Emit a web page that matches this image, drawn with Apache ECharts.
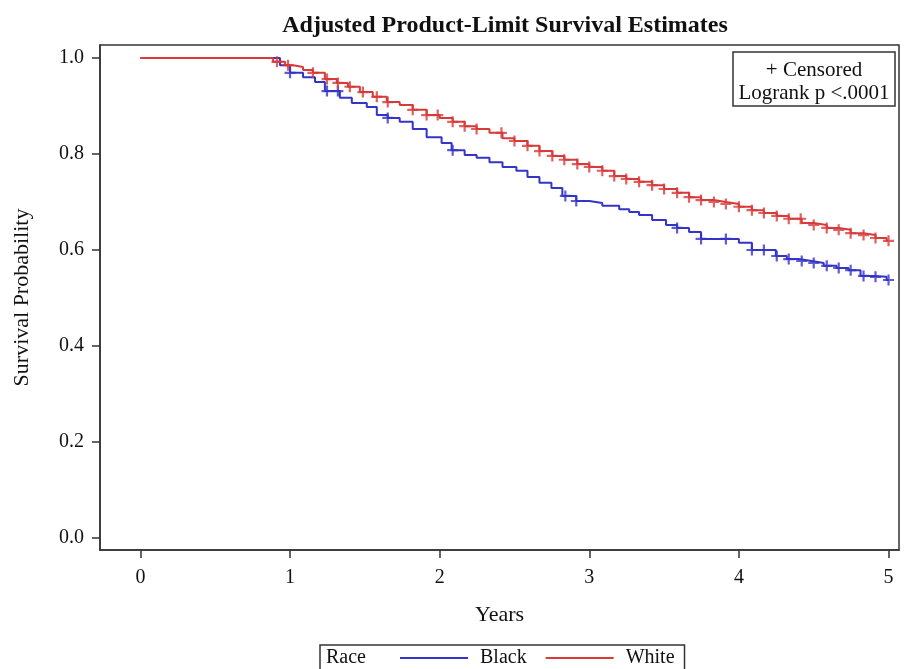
<!DOCTYPE html>
<html><head><meta charset="utf-8">
<script src="https://cdn.jsdelivr.net/npm/echarts@6/dist/echarts.min.js"></script>
<style>html,body{margin:0;padding:0;background:#fff}#c{width:904px;height:669px}</style>
</head><body><div id="c"></div>
<script>
const xTicks = [0, 1, 2, 3, 4, 5];
const yTicks = [0, 0.2, 0.4, 0.6, 0.8, 1.0];

const blackTimes = [0,0.933,1.0,1.087,1.167,1.233,1.333,1.413,1.513,1.58,1.653,1.733,1.82,1.913,2.013,2.08,2.167,2.247,2.333,2.42,2.513,2.587,2.667,2.747,2.82,2.913,3.0,3.087,3.2,3.267,3.333,3.42,3.513,3.587,3.667,3.747,4.0,4.087,4.247,4.32,4.4,4.487,4.567,4.653,4.733,4.813,4.9,4.987,5.0];
const blackSurv = [1.0,0.985,0.969,0.960,0.950,0.931,0.917,0.906,0.898,0.881,0.875,0.867,0.852,0.835,0.823,0.808,0.798,0.792,0.783,0.773,0.765,0.752,0.740,0.729,0.7125,0.702,0.698,0.692,0.685,0.679,0.673,0.6625,0.652,0.646,0.6375,0.623,0.615,0.600,0.5875,0.581,0.577,0.573,0.567,0.5625,0.558,0.546,0.544,0.5375,0.5375];

const whiteTimes = [0,0.887,0.967,1.02,1.087,1.153,1.233,1.313,1.387,1.467,1.553,1.647,1.733,1.82,1.913,2.0,2.087,2.167,2.247,2.333,2.42,2.5,2.587,2.667,2.753,2.833,2.92,3.0,3.087,3.167,3.247,3.333,3.42,3.5,3.587,3.667,3.747,3.833,3.913,4.0,4.087,4.167,4.253,4.333,4.42,4.5,4.587,4.667,4.747,4.833,4.913,4.987,5.0];
const whiteSurv = [1.0,0.992,0.985,0.981,0.975,0.969,0.956,0.948,0.940,0.929,0.919,0.908,0.902,0.892,0.881,0.875,0.867,0.858,0.852,0.844,0.833,0.827,0.817,0.806,0.796,0.788,0.779,0.773,0.765,0.754,0.748,0.742,0.735,0.727,0.719,0.710,0.704,0.700,0.696,0.690,0.683,0.677,0.671,0.665,0.656,0.652,0.646,0.642,0.635,0.631,0.625,0.619,0.619];

const blackCensor = [1.0,1.247,1.32,1.653,2.087,2.84,2.913,3.587,3.747,3.913,4.087,4.167,4.253,4.333,4.42,4.5,4.587,4.667,4.747,4.833,4.913,5.0];
const whiteCensor = [0.913,0.987,1.153,1.247,1.32,1.40,1.487,1.58,1.653,1.82,1.913,1.987,2.087,2.167,2.247,2.413,2.5,2.587,2.667,2.753,2.833,2.92,3.0,3.087,3.167,3.247,3.333,3.42,3.5,3.587,3.667,3.747,3.833,3.913,4.0,4.087,4.167,4.253,4.333,4.413,4.5,4.587,4.667,4.747,4.833,4.913,5.0];

const BLUE = '#3434c6', RED = '#d83a3a';
const FONT = '"Liberation Serif", "Times New Roman", serif';

function pairs(t, s) { return t.map((v, i) => [v, s[i]]); }
function survAt(times, surv, t) {
  let k = 0;
  for (let i = 0; i < times.length; i++) if (times[i] <= t) k = i;
  return surv[k];
}
function censorPts(ct, times, surv) { return ct.map(t => [t, survAt(times, surv, t)]); }

const plus = 'path://M4,0H6V4H10V6H6V10H4V6H0V4H4Z';

const chart = echarts.init(document.getElementById('c'), null, {renderer: 'canvas'});
chart.setOption({
  animation: false,
  backgroundColor: '#fff',
  textStyle: {fontFamily: FONT},
  title: {
    text: 'Adjusted Product-Limit Survival Estimates',
    left: 500, top: 9, textAlign: 'center',
    textStyle: {fontFamily: FONT, fontWeight: 'bold', fontSize: 24, color: '#111'}
  },
  grid: {left: 100, right: 5, top: 45, bottom: 119, show: true, borderColor: '#333', borderWidth: 1.5, containLabel: false},
  xAxis: {
    type: 'value', min: -0.27, max: 5.07,
    name: 'Years', nameLocation: 'middle', nameGap: 54,
    nameTextStyle: {fontFamily: FONT, fontSize: 22, color: '#111'},
    axisLine: {show: true, onZero: false, lineStyle: {color: '#333', width: 1.5}},
    axisTick: {show: true, customValues: xTicks, length: 8, lineStyle: {color: '#333', width: 1.5}},
    axisLabel: {customValues: xTicks, margin: 18, fontFamily: FONT, fontSize: 20, color: '#111'},
    splitLine: {show: false}
  },
  yAxis: {
    type: 'value', min: -0.025, max: 1.027,
    name: 'Survival Probability', nameLocation: 'middle', nameGap: 67,
    nameTextStyle: {fontFamily: FONT, fontSize: 22, color: '#111'},
    axisLine: {show: true, onZero: false, lineStyle: {color: '#333', width: 1.5}},
    axisTick: {show: true, customValues: yTicks, length: 8, lineStyle: {color: '#333', width: 1.5}},
    axisLabel: {customValues: yTicks, margin: 16, fontFamily: FONT, fontSize: 20, color: '#111', formatter: v => v.toFixed(1)},
    splitLine: {show: false}
  },
  legend: {
    data: ['Black', 'White'],
    icon: 'rect',
    left: 320, top: 645,
    padding: [3, 10, 8, 80],
    itemWidth: 68, itemHeight: 2, itemGap: 19,
    borderColor: '#333', borderWidth: 1.5,
    textStyle: {fontFamily: FONT, fontSize: 20, color: '#111', padding: [0, 0, 0, 7]}
  },
  graphic: [
    {type: 'text', left: 326, top: 648, style: {text: 'Race', font: '20px ' + FONT, fill: '#111'}},
    {type: 'rect', shape: {x: 733, y: 52, width: 162, height: 54}, style: {fill: '#fff', stroke: '#333', lineWidth: 1.5}},
    {type: 'text', x: 814, y: 60, style: {text: '+ Censored', font: '21px ' + FONT, fill: '#111', textAlign: 'center'}},
    {type: 'text', x: 814, y: 83, style: {text: 'Logrank p <.0001', font: '21px ' + FONT, fill: '#111', textAlign: 'center'}}
  ],
  series: [
    {name: 'Black', type: 'line', step: 'end', symbol: 'none', data: pairs(blackTimes, blackSurv),
     lineStyle: {color: BLUE, width: 2}, itemStyle: {color: BLUE}, z: 2},
    {name: 'White', type: 'line', step: 'end', symbol: 'none', data: pairs(whiteTimes, whiteSurv),
     lineStyle: {color: RED, width: 2}, itemStyle: {color: RED}, z: 3},
    {name: 'Black censored', type: 'scatter', symbol: plus, symbolSize: 11,
     data: censorPts(blackCensor, blackTimes, blackSurv), itemStyle: {color: BLUE}, z: 4},
    {name: 'White censored', type: 'scatter', symbol: plus, symbolSize: 11,
     data: censorPts(whiteCensor, whiteTimes, whiteSurv), itemStyle: {color: RED}, z: 5}
  ]
});
</script>
</body></html>
